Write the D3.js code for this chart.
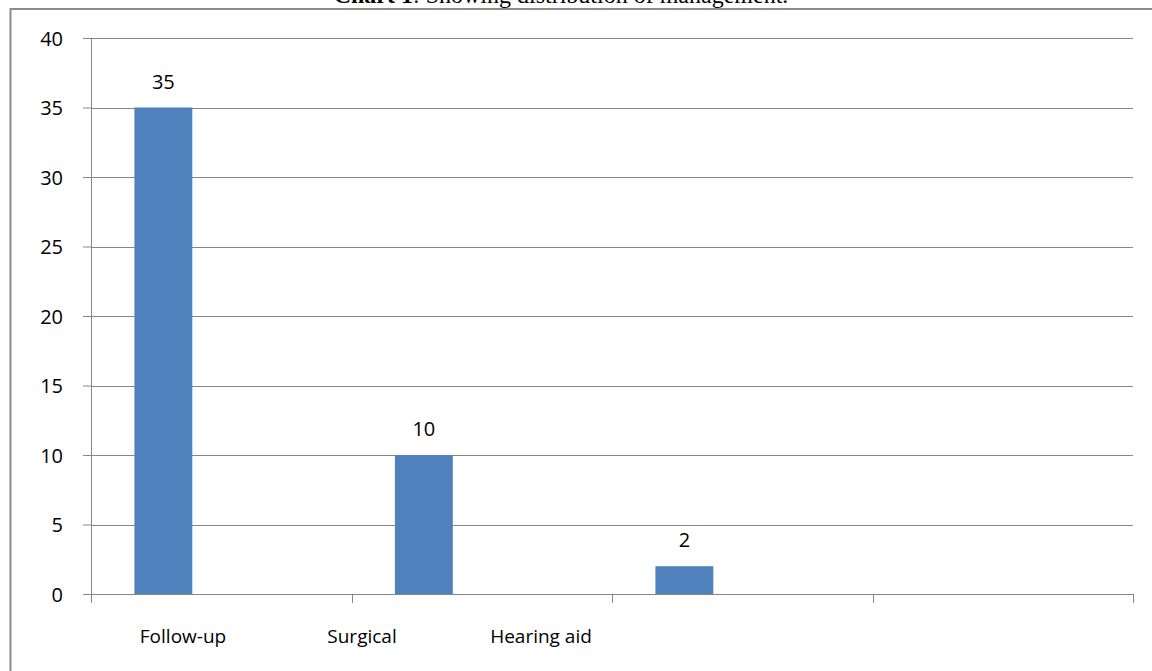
<!DOCTYPE html>
<html>
<head>
<meta charset="utf-8">
<script src="https://cdn.jsdelivr.net/npm/d3@7"></script>
<style>
  body { margin: 0; background: #fff; }
  svg { display: block; }
  .tick text, .lbl { font-family: "Open Sans", "Noto Sans", sans-serif; fill: #000; }
</style>
</head>
<body>
<div id="chart"></div>
<script>
(function() {

// data
var categories = ["Follow-up", "Surgical", "Hearing aid", ""];
var series = ["s1", "s2", "s3"];          // excel layout: 3 series slots, only first one filled
var values = [35, 10, 2, null];
var yTicks = [0, 5, 10, 15, 20, 25, 30, 35, 40];

var W = 1152, H = 671;
var margin = {top: 38, right: 19, bottom: 77, left: 91},
    width = W - margin.left - margin.right,
    height = H - margin.top - margin.bottom;

var svg = d3.select("#chart").append("svg")
    .attr("width", W)
    .attr("height", H);

// outer chart frame (runs off right / bottom of the picture)
svg.append("rect")
    .attr("x", 10.5)
    .attr("y", 9)
    .attr("width", W + 20)
    .attr("height", H + 20)
    .style("fill", "none")
    .style("stroke", "#8c8c8c")
    .style("stroke-width", 2);

// title, clipped at the top like the reference
var title = svg.append("text")
    .attr("x", 561)
    .attr("y", 3)
    .attr("text-anchor", "middle")
    .style("font-family", "'Liberation Serif', 'Times New Roman', serif")
    .style("font-size", "24px");
title.append("tspan").style("font-weight", "bold").text("Chart 1");
title.append("tspan").text(": Showing distribution of management.");

var g = svg.append("g")
    .attr("transform", "translate(" + margin.left + "," + margin.top + ")");

var y = d3.scaleLinear()
    .domain([0, 40])
    .range([height, 0]);

var x = d3.scaleBand()
    .domain(categories)
    .range([0, width])
    .padding(0);

var xs = d3.scaleBand()
    .domain(series)
    .range([0, x.bandwidth()])
    .paddingInner(0)
    .paddingOuter(0.75);

// labels sit on their own tighter spacing in the reference
var xl = d3.scaleBand()
    .domain(categories)
    .range([2.5, 2.5 + 179 * categories.length]);

// gridlines
g.append("g")
  .selectAll("line")
  .data(yTicks.filter(function(d) { return d > 0; }))
  .enter().append("line")
    .attr("x1", 0)
    .attr("x2", width)
    .attr("y1", function(d) { return Math.round(y(d)) + 0.5; })
    .attr("y2", function(d) { return Math.round(y(d)) + 0.5; })
    .style("stroke", "#868686")
    .style("stroke-width", 1);

// bars
g.selectAll(".bar")
    .data(values.map(function(v, i) { return {cat: categories[i], v: v}; })
      .filter(function(d) { return d.v != null; }))
  .enter().append("rect")
    .attr("class", "bar")
    .attr("x", function(d) { return x(d.cat) + xs("s1"); })
    .attr("width", xs.bandwidth())
    .attr("y", function(d) { return y(d.v); })
    .attr("height", function(d) { return height - y(d.v); })
    .style("fill", "#4f81bd");

// value labels
g.selectAll(".val")
    .data(values.map(function(v, i) { return {cat: categories[i], v: v}; })
      .filter(function(d) { return d.v != null; }))
  .enter().append("text")
    .attr("class", "lbl")
    .attr("x", function(d) { return x(d.cat) + xs("s1") + xs.bandwidth() / 2; })
    .attr("y", function(d) { return y(d.v) - 19; })
    .attr("text-anchor", "middle")
    .style("font-size", "20px")
    .text(function(d) { return d.v; });

// y axis
var yAxis = g.append("g")
    .call(d3.axisLeft(y).tickValues(yTicks).tickSize(8).tickPadding(20));
yAxis.selectAll("text").style("font-size", "20px").attr("dy", "0.35em");
yAxis.selectAll("line, path").style("stroke", "#868686");
yAxis.select(".domain").attr("d", "M0.5," + height + "V0.5");

// x axis: tick lines at band edges, labels placed separately
var xAxis = g.append("g")
    .attr("transform", "translate(0," + height + ")");
xAxis.append("line")
    .attr("x1", 0).attr("x2", width)
    .attr("y1", 0.5).attr("y2", 0.5)
    .style("stroke", "#868686");
xAxis.selectAll(".xt")
    .data(categories.map(function(c) { return x(c); }).concat([width]))
  .enter().append("line")
    .attr("class", "xt")
    .attr("x1", function(d) { return Math.round(d) + 0.5; })
    .attr("x2", function(d) { return Math.round(d) + 0.5; })
    .attr("y1", 0)
    .attr("y2", 9)
    .style("stroke", "#868686");

xAxis.selectAll(".xl")
    .data(categories.filter(function(c) { return c !== ""; }))
  .enter().append("text")
    .attr("class", "lbl")
    .attr("x", function(d) { return xl(d) + xl.bandwidth() / 2; })
    .attr("y", 49)
    .attr("text-anchor", "middle")
    .style("font-size", "19px")
    .text(function(d) { return d; });

})()
</script>
</body>
</html>
